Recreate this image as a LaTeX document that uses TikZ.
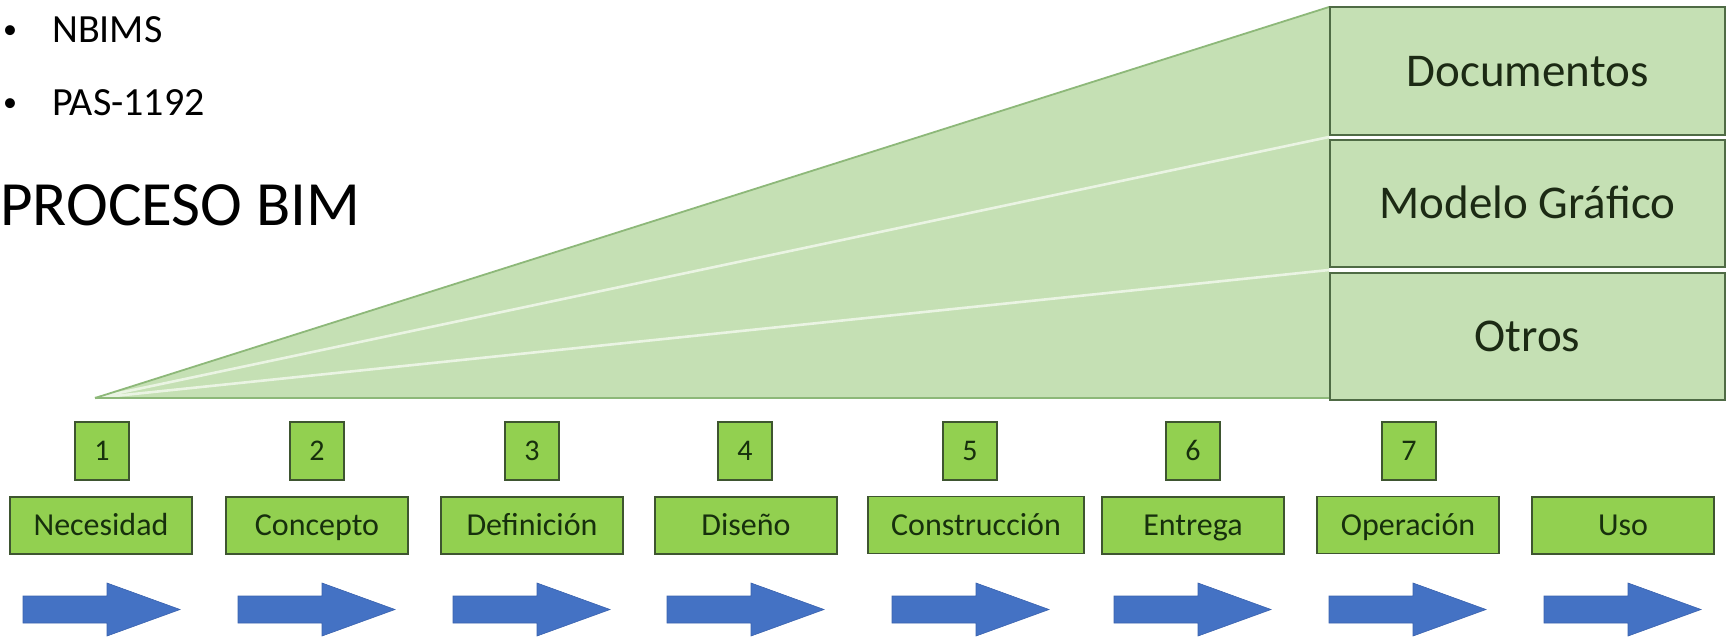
\documentclass[tikz,border=0pt]{standalone}
\usepackage{fontspec}
\setmainfont{Carlito}
\definecolor{lgreen}{HTML}{C5E0B4}
\definecolor{catedge}{HTML}{4F6B45}
\definecolor{triedge}{HTML}{8DB879}
\definecolor{whiteline}{HTML}{EAF4E3}
\definecolor{boxgreen}{HTML}{92D050}
\definecolor{boxedge}{HTML}{3E5530}
\definecolor{boxtext}{HTML}{17300D}
\definecolor{cattext}{HTML}{1C2A14}
\definecolor{arrowblue}{HTML}{4472C4}
\definecolor{arrowedge}{HTML}{3A62AE}
\begin{document}
\begin{tikzpicture}[x=1pt,y=-1pt,
  numbox/.style={draw=boxedge, line width=1.5pt, fill=boxgreen, minimum width=54pt, minimum height=58pt, inner sep=0pt, text height=19pt, text depth=0pt, font=\fontsize{30}{36}\selectfont, text=boxtext},
  phasebox/.style={draw=boxedge, line width=1.5pt, fill=boxgreen, minimum width=182pt, minimum height=57pt, inner sep=0pt, text height=20.5pt, text depth=0pt, font=\fontsize{32}{38}\selectfont, text=boxtext},
  catbox/.style={draw=catedge, line width=1.5pt, fill=lgreen, minimum width=395pt, inner sep=0pt, text height=30.2pt, text depth=0pt, font=\fontsize{47}{56}\selectfont, text=cattext},
  toptext/.style={anchor=base west, inner sep=0pt, text=black},
  blockarrow/.style={fill=arrowblue, draw=arrowedge, line width=0.6pt}]
\useasboundingbox (0,0) rectangle (1731,638);

% top-left texts
\node[toptext, font=\fontsize{28}{34}\selectfont] (bul1) at (3,38) {•};
\node[toptext, font=\fontsize{40}{48}\selectfont] (nbims) at (52,42) {NBIMS};
\node[toptext, font=\fontsize{28}{34}\selectfont] (bul2) at (3,111) {•};
\node[toptext, font=\fontsize{40}{48}\selectfont] (pas) at (52,115) {PAS-1192};
\node[toptext, font=\fontsize{63}{72}\selectfont] (title) at (0,225) {PROCESO BIM};

% wedge
\coordinate (apex) at (95,398);
\coordinate (t0) at (1329,7);
\coordinate (t1) at (1329,137);
\coordinate (t2) at (1329,270);
\coordinate (t3) at (1329,398);
\fill[lgreen] (apex) -- (t0) -- (t3) -- cycle;
\draw[whiteline, line width=2.6pt] (apex) -- (t1);
\draw[whiteline, line width=2.6pt] (apex) -- (t2);
\draw[triedge, line width=1.8pt] (apex) -- (t0);
\draw[triedge, line width=1.8pt] (apex) -- (t3);

% category boxes
\node[catbox, minimum height=128pt] (doc) at (1527.5,71) {Documentos};
\node[catbox, minimum height=127pt] (mod) at (1527.5,203.5) {Modelo Gráfico};
\node[catbox, minimum height=127pt] (otr) at (1527.5,336.5) {Otros};

% number boxes
\node[numbox] (n1) at (102,451) {1};
\node[numbox] (n2) at (317,451) {2};
\node[numbox] (n3) at (532,451) {3};
\node[numbox] (n4) at (745,451) {4};
\node[numbox] (n5) at (970,451) {5};
\node[numbox] (n6) at (1193,451) {6};
\node[numbox] (n7) at (1409,451) {7};

% phase boxes
\node[phasebox] (p1) at (101,525.5) {Necesidad};
\node[phasebox] (p2) at (317,525.5) {Concepto};
\node[phasebox] (p3) at (532,525.5) {Definición};
\node[phasebox] (p4) at (746,525.5) {Diseño};
\node[phasebox, minimum width=216pt] (p5) at (976,525) {Construcción};
\node[phasebox] (p6) at (1193,525.5) {Entrega};
\node[phasebox] (p7) at (1408,525) {Operación};
\node[phasebox] (p8) at (1623,525.5) {Uso};

% block arrows
\foreach \x in {23,238,453,667,892,1114,1329,1544}{
  \draw[blockarrow] (\x,609.5) ++(0,-13.5) -- ++(84,0) -- ++(0,-13) -- ++(73,26.5) -- ++(-73,26.5) -- ++(0,-13) -- ++(-84,0) -- cycle;
}
\end{tikzpicture}
\end{document}
